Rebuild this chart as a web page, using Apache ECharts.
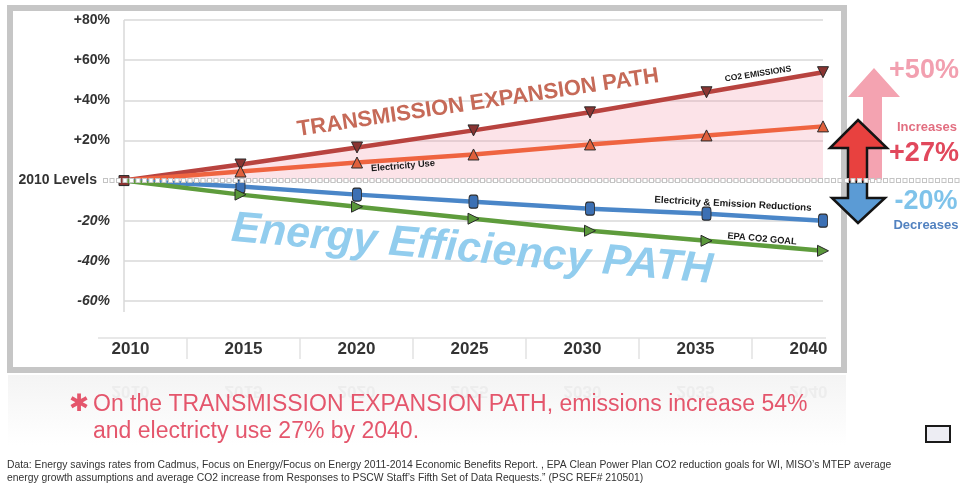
<!DOCTYPE html>
<html>
<head>
<meta charset="utf-8">
<script src="https://cdn.jsdelivr.net/npm/echarts@6/dist/echarts.min.js"></script>
<style>
  html, body { margin: 0; padding: 0; background: #fff; }
  #chart { width: 963px; height: 487px; }
</style>
</head>
<body>
<div id="chart"></div>
<script>
// values, % change against 2010
const years = ['2010', '2015', '2020', '2025', '2030', '2035', '2040'];
const co2Emissions = [0, 8, 16.5, 25, 34, 44, 54];
const electricityUse = [0, 4.5, 9, 13, 18, 22.5, 27];
const reductions = [0, -3, -7, -10.5, -14, -16.5, -20];
const epaGoal = [0, -7, -13, -19, -25, -30, -35];
const yTicks = { min: -60, max: 80, step: 20 };

const chart = echarts.init(document.getElementById('chart'));
const FONT = '"Liberation Sans", Arial, sans-serif';

function yLabel(v) {
  if (v === 0) return '{lvl|2010 Levels}';
  if (v > 0) return '{pos|+' + v + '%}';
  return '{neg|' + v + '%}';
}

function lineSeries(name, data, color, symbol, rotate, mk, first) {
  return {
    name: name,
    type: 'line',
    data: data,
    z: 3,
    lineStyle: { color: color, width: 4.5 },
    symbol: function (v, p) { return p.dataIndex === 0 ? first : symbol; },
    symbolSize: function (v, p) { return p.dataIndex === 0 ? 10 : 11; },
    symbolRotate: rotate,
    itemStyle: { color: mk, borderColor: '#2a2a2a', borderWidth: 1 },
    emphasis: { disabled: true }
  };
}

const co2 = lineSeries('CO2 EMISSIONS', co2Emissions, '#b8433f', 'triangle', 180, '#8a3432', 'rect');
co2.areaStyle = { color: 'rgba(244,150,170,0.38)' };
co2.z = 2;

const option = {
  animation: false,
  textStyle: { fontFamily: FONT },
  grid: [
    { left: 124, right: 140, top: 20, bottom: 186 },
    { left: 74, right: 98, top: 338, height: 21 }
  ],
  xAxis: [
    {
      type: 'category', data: years, boundaryGap: false, gridIndex: 0,
      axisLine: { show: false }, axisTick: { show: false },
      axisLabel: { show: false }, splitLine: { show: false }
    },
    {
      type: 'category', data: years, gridIndex: 1, position: 'top',
      axisLine: { show: false }, axisTick: { show: false },
      axisLabel: { inside: true, margin: 3, fontSize: 17, fontWeight: 'bold', color: '#333', fontFamily: FONT },
      splitLine: { show: true, showMinLine: false, showMaxLine: false, lineStyle: { color: '#e2e2e2', width: 1.5 } }
    }
  ],
  yAxis: [
    {
      type: 'value', gridIndex: 0, min: yTicks.min, max: yTicks.max, interval: yTicks.step,
      axisLine: { show: false }, axisTick: { show: false },
      splitLine: { lineStyle: { color: '#d9d9d9', width: 1.5 } },
      axisLabel: {
        margin: 14,
        formatter: yLabel,
        rich: {
          pos: { fontSize: 14, fontWeight: 'bold', color: '#333', fontFamily: FONT },
          neg: { fontSize: 14, fontWeight: 'bold', fontStyle: 'italic', color: '#333', fontFamily: FONT },
          lvl: { fontSize: 14, fontWeight: 'bold', color: '#333', fontFamily: FONT, padding: [0, 13, 0, 0] }
        }
      }
    },
    { type: 'value', gridIndex: 1, show: false }
  ],
  series: [
    co2,
    lineSeries('Electricity Use', electricityUse, '#ef6440', 'triangle', 0, '#e0603c', 'none'),
    lineSeries('Electricity & Emission Reductions', reductions, '#4a86c8', 'roundRect', 0, '#3c70b4', 'none'),
    lineSeries('EPA CO2 GOAL', epaGoal, '#5e9c3c', 'triangle', -90, '#5a983a', 'none')
  ]
};
option.series[2].symbolSize = function (v, p) { return p.dataIndex === 0 ? 10 : [9, 13]; };

chart.setOption(option);

// decoration placed from the library's own scales
const px = (i, v) => chart.convertToPixel({ gridIndex: 0 }, [i, v]);
const zeroY = px(0, 0)[1];
const axisX = px(0, 0)[0];
const topY = px(0, 80)[1];
const botY = px(0, -60)[1] + 11;

const graphics = [
  // panel frame
  { type: 'rect', z: -1, shape: { x: 10, y: 8, width: 834, height: 362 }, style: { fill: '#fff', stroke: '#c6c6c6', lineWidth: 6 } },
  // reflection under the panel
  { type: 'rect', z: -2, shape: { x: 8, y: 375, width: 838, height: 70 },
    style: { fill: new echarts.graphic.LinearGradient(0, 0, 0, 1, [{ offset: 0, color: '#f4f4f4' }, { offset: 1, color: '#ffffff' }]) } },
  // vertical axis line
  { type: 'line', z: 0, shape: { x1: axisX, y1: topY, x2: axisX, y2: botY }, style: { stroke: '#d9d9d9', lineWidth: 1.5 } },
  // year band top line
  { type: 'line', z: 0, shape: { x1: 98, y1: 338, x2: 826, y2: 338 }, style: { stroke: '#e0e0e0', lineWidth: 1.5 } },
  // big path captions
  { type: 'text', z: 1, x: 478, y: 103, rotation: 8.5 * Math.PI / 180,
    style: { text: 'TRANSMISSION EXPANSION PATH', fill: '#c66a58', font: 'bold 22px ' + FONT, align: 'center', verticalAlign: 'middle' } },
  { type: 'text', z: 1, x: 472, y: 250, rotation: -5 * Math.PI / 180,
    style: { text: 'Energy Efficiency PATH', fill: '#92cdee', font: 'italic bold 43px ' + FONT, align: 'center', verticalAlign: 'middle' } },
  // series captions
  { type: 'text', z: 6, x: 758, y: 74, rotation: 9 * Math.PI / 180,
    style: { text: 'CO2 EMISSIONS', fill: '#1a1a1a', font: 'bold 8.5px ' + FONT, align: 'center', verticalAlign: 'middle' } },
  { type: 'text', z: 6, x: 403, y: 166, rotation: 5 * Math.PI / 180,
    style: { text: 'Electricity Use', fill: '#1a1a1a', font: 'bold 9.3px ' + FONT, align: 'center', verticalAlign: 'middle' } },
  { type: 'text', z: 6, x: 733, y: 204, rotation: -3 * Math.PI / 180,
    style: { text: 'Electricity & Emission Reductions', fill: '#1a1a1a', font: 'bold 9.7px ' + FONT, align: 'center', verticalAlign: 'middle' } },
  { type: 'text', z: 6, x: 762, y: 239, rotation: -5 * Math.PI / 180,
    style: { text: 'EPA CO2 GOAL', fill: '#1a1a1a', font: 'bold 9.3px ' + FONT, align: 'center', verticalAlign: 'middle' } },
  // arrows on the right
  { type: 'polygon', z: 4, shape: { points: [[874, 68], [900, 97], [882, 97], [882, 180], [863, 180], [863, 97], [848, 97]] }, style: { fill: '#f4a3b1' } },
  { type: 'polygon', z: 5, shape: { points: [[858, 120], [887, 148], [867, 148], [867, 182], [848, 182], [848, 148], [830, 148]] }, style: { fill: '#e8413f', stroke: '#141414', lineWidth: 2.5 } },
  { type: 'polygon', z: 5, shape: { points: [[848, 182], [867, 182], [867, 198], [885, 198], [858, 223], [832, 198], [848, 198]] }, style: { fill: '#5b9bd5', stroke: '#141414', lineWidth: 2.5 } },
  { type: 'text', z: 6, x: 924, y: 71, style: { text: '+50%', fill: '#f2a0b0', font: 'bold 27px ' + FONT, align: 'center', verticalAlign: 'middle' } },
  { type: 'text', z: 6, x: 927, y: 127, style: { text: 'Increases', fill: '#e26e80', font: 'bold 13px ' + FONT, align: 'center', verticalAlign: 'middle' } },
  { type: 'text', z: 6, x: 924, y: 154, style: { text: '+27%', fill: '#e1485c', font: 'bold 27px ' + FONT, align: 'center', verticalAlign: 'middle' } },
  { type: 'text', z: 6, x: 926, y: 202, style: { text: '-20%', fill: '#7fc3ea', font: 'bold 27px ' + FONT, align: 'center', verticalAlign: 'middle' } },
  { type: 'text', z: 6, x: 926, y: 225, style: { text: 'Decreases', fill: '#5282c0', font: 'bold 13px ' + FONT, align: 'center', verticalAlign: 'middle' } },
  // dotted 2010 level line
  { type: 'line', z: 7, shape: { x1: 103, y1: zeroY, x2: 960, y2: zeroY }, style: { stroke: '#c4c4c4', lineWidth: 5, lineDash: [5, 1.5] } },
  { type: 'line', z: 8, shape: { x1: 104, y1: zeroY, x2: 960, y2: zeroY }, style: { stroke: '#ffffff', lineWidth: 3, lineDash: [3, 3.5] } },
  // notes
  { type: 'text', z: 6, x: 79, y: 405, style: { text: '\u2731', fill: '#e4566c', font: 'bold 24px "DejaVu Sans"', align: 'center', verticalAlign: 'middle' } },
  { type: 'text', z: 6, x: 93, y: 405, style: { text: 'On the TRANSMISSION EXPANSION PATH, emissions increase 54%', fill: '#e4566c', font: '23px ' + FONT, verticalAlign: 'middle' } },
  { type: 'text', z: 6, x: 93, y: 432, style: { text: 'and electricty use 27% by 2040.', fill: '#e4566c', font: '23px ' + FONT, verticalAlign: 'middle' } },
  { type: 'text', z: 6, x: 7, y: 465, style: { text: 'Data: Energy savings rates from Cadmus, Focus on Energy/Focus on Energy 2011-2014 Economic Benefits Report. , EPA Clean Power Plan CO2 reduction goals for WI, MISO\u2019s MTEP average', fill: '#333', font: '10.35px ' + FONT, verticalAlign: 'middle' } },
  { type: 'text', z: 6, x: 7, y: 478, style: { text: 'energy growth assumptions and average CO2 increase from Responses to PSCW Staff\u2019s Fifth Set of Data Requests.\u201d (PSC REF# 210501)', fill: '#333', font: '10.35px ' + FONT, verticalAlign: 'middle' } },
  { type: 'rect', z: 6, shape: { x: 926, y: 426, width: 24, height: 16 }, style: { fill: '#ededf3', stroke: '#1a1a1a', lineWidth: 2 } }
];

// faint mirrored year labels in the reflection
years.forEach(function (y, i) {
  const p = chart.convertToPixel({ xAxisIndex: 1 }, y);
  graphics.push({ type: 'text', z: -1, x: p, y: 391, scaleY: -1,
    style: { text: y, fill: '#ededed', font: 'bold 17px ' + FONT, align: 'center', verticalAlign: 'middle' } });
});

chart.setOption({ graphic: graphics });
</script>
</body>
</html>
